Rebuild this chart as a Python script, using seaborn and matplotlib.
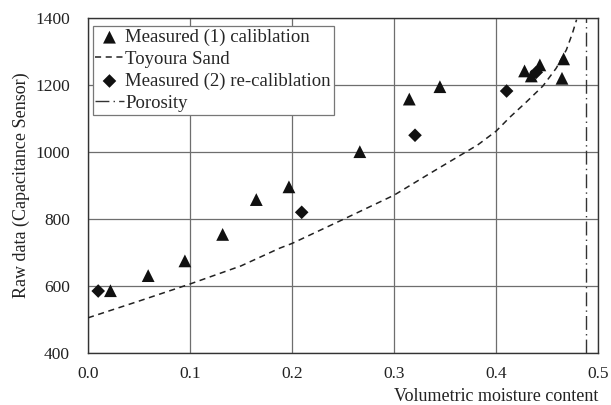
import matplotlib
matplotlib.use("Agg")
import matplotlib.pyplot as plt
import seaborn as sns
import pandas as pd

# Measured (1) calibration
m1_x = [0.022, 0.059, 0.095, 0.132, 0.165, 0.197, 0.2665, 0.315, 0.345, 0.428, 0.4346, 0.443, 0.4663, 0.4647]
m1_y = [586, 631, 675, 754, 858, 896, 1001, 1158, 1195, 1242, 1227, 1260, 1278, 1220]
# Measured (2) re-calibration
m2_x = [0.010, 0.2095, 0.3206, 0.4104, 0.4395]
m2_y = [585, 820, 1050, 1182, 1238]
# Toyoura Sand curve
ts_x = [0.0, 0.05, 0.10, 0.15, 0.188, 0.20, 0.251, 0.30, 0.333, 0.382, 0.40, 0.414, 0.430, 0.446, 0.459, 0.469, 0.475, 0.479]
ts_y = [505, 555, 606, 660, 713, 727, 800, 871, 932, 1021, 1062, 1105, 1150, 1197, 1250, 1305, 1355, 1395]
porosity = 0.488

x_ticks = [0.0, 0.1, 0.2, 0.3, 0.4, 0.5]
x_tick_labels = ["0.0", "0.1", "0.2", "0.3", "0.4", "0.5"]
y_ticks = [400, 600, 800, 1000, 1200, 1400]

labels = ["Measured (1) caliblation", "Toyoura Sand",
          "Measured (2) re-caliblation", "Porosity"]

sns.set_style("white")
plt.rcParams["font.family"] = ["Liberation Serif", "DejaVu Serif"]

fig = plt.figure(figsize=(6.11, 4.05), dpi=100)
ax = fig.add_axes([88 / 611, 52 / 405, 510 / 611, 335 / 405])

df1 = pd.DataFrame({"x": m1_x, "y": m1_y})
df2 = pd.DataFrame({"x": m2_x, "y": m2_y})
dft = pd.DataFrame({"x": ts_x, "y": ts_y})

sns.scatterplot(data=df1, x="x", y="y", marker="^", s=85, color="#111111",
                edgecolor="none", ax=ax, label=labels[0], zorder=4)
sns.lineplot(data=dft, x="x", y="y", sort=False, estimator=None, color="#222222",
             linewidth=1.1, linestyle=(0, (4, 3)), ax=ax, label=labels[1], zorder=3)
sns.scatterplot(data=df2, x="x", y="y", marker="D", s=48, color="#111111",
                edgecolor="none", ax=ax, label=labels[2], zorder=4)
ax.axvline(porosity, color="#333333", linewidth=1.0,
           linestyle=(0, (10, 3, 1, 3)), label=labels[3], zorder=3)

ax.set_xlim(0, 0.5)
ax.set_ylim(400, 1400)
ax.set_xticks(x_ticks)
ax.set_xticklabels(x_tick_labels)
ax.set_yticks(y_ticks)
ax.grid(True, color="#6e6e6e", linewidth=0.9)
ax.set_axisbelow(True)
for s in ax.spines.values():
    s.set_color("#333333")
    s.set_linewidth(1.0)
ax.tick_params(axis="both", length=0, labelsize=12.5, colors="#222222")
ax.tick_params(axis="y", pad=13)
ax.tick_params(axis="x", pad=9)

ax.set_xlabel("Volumetric moisture content", fontsize=13, loc="right", labelpad=5, color="#222222")
ax.set_ylabel("Raw data (Capacitance Sensor)", fontsize=13, labelpad=4, color="#222222")

leg = ax.legend(loc="upper left", bbox_to_anchor=(0.009, 0.976), fontsize=13.5,
                frameon=True, fancybox=False, edgecolor="#777777", framealpha=1,
                handlelength=1.5, handletextpad=0.1, labelspacing=0.25,
                borderpad=0.15, borderaxespad=0.0)
leg.get_frame().set_linewidth(0.9)

fig.savefig("out.png", dpi=100)
